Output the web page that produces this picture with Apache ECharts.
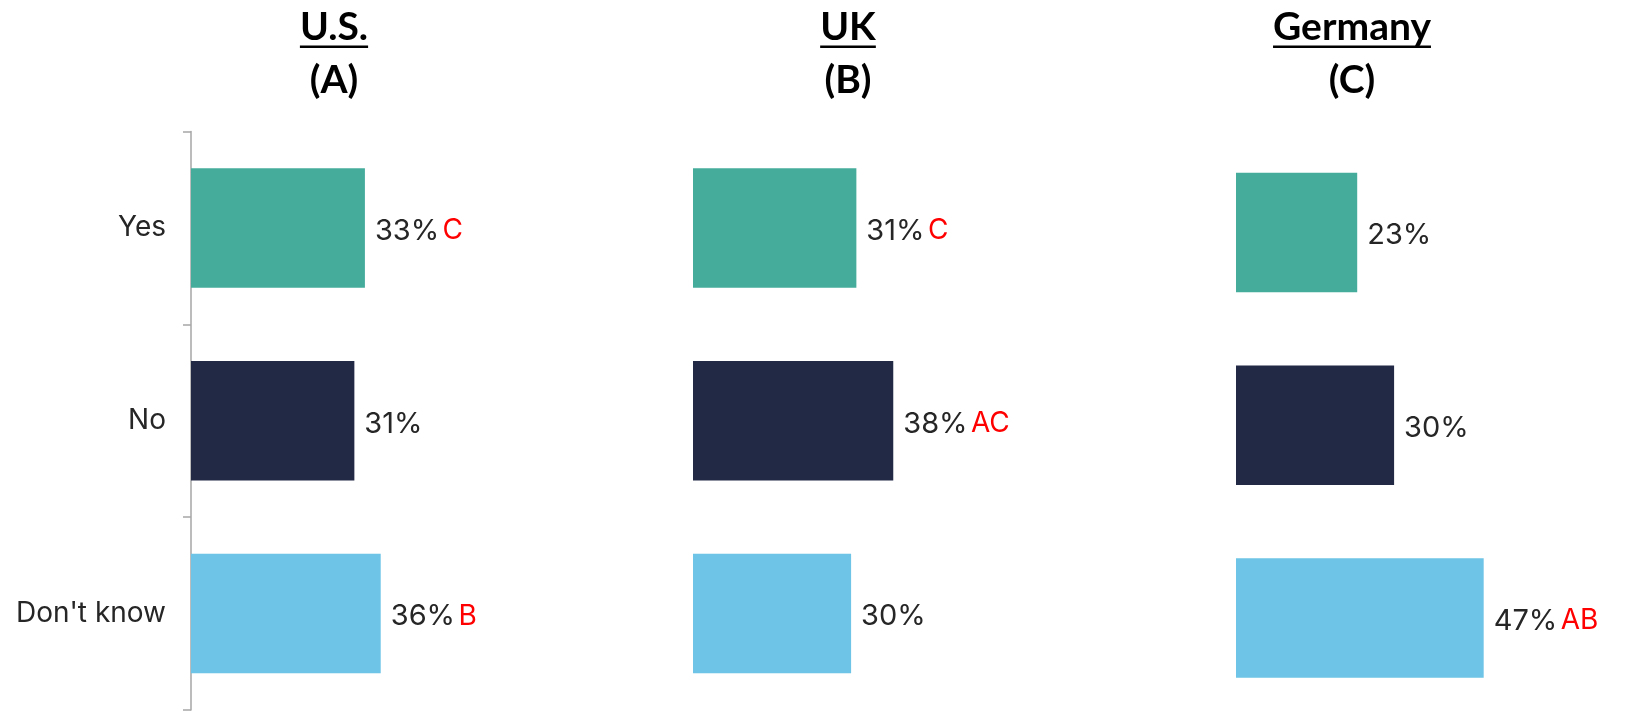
<!DOCTYPE html>
<html>
<head>
<meta charset="utf-8">
<script src="https://cdn.jsdelivr.net/npm/echarts@6/dist/echarts.min.js"></script>
<style>
  html, body { margin: 0; padding: 0; background: #ffffff; }
  #chart { width: 1625px; height: 711px; }
</style>
</head>
<body>
<div id="chart"></div>
<script>
// Survey answers by country, with significance letters
const categories = ['Yes', 'No', "Don't know"];
const panelTitles = ['U.S.', 'UK', 'Germany'];
const panelCodes = ['(A)', '(B)', '(C)'];
const usValues = [33, 31, 36];
const usSig = ['C', '', 'B'];
const ukValues = [31, 38, 30];
const ukSig = ['C', 'AC', ''];
const deValues = [23, 30, 47];
const deSig = ['', '', 'AB'];
const barColors = ['#45AB9B', '#212944', '#6EC4E6'];

const panelValues = [usValues, ukValues, deValues];
const panelSig = [usSig, ukSig, deSig];

// layout of the three small multiples
const gridLeft = [191, 693, 1236];
const gridTop = [131.6, 131.6, 136];
const gridHeight = 578.4;
const axisMax = 60;
const pxPerPoint = 5.27;
const titleCenter = [334, 848, 1352];

const titleFont = 'bold 39px Lato';
const labelFamily = 'Inter';

function textWidth(str, font) {
  const c = document.createElement('canvas').getContext('2d');
  c.font = font;
  return c.measureText(str).width;
}

const chart = echarts.init(document.getElementById('chart'), null, { renderer: 'canvas' });

const grids = [], xAxes = [], yAxes = [], series = [], graphics = [];

panelValues.forEach((vals, p) => {
  grids.push({
    left: gridLeft[p], top: gridTop[p], width: axisMax * pxPerPoint, height: gridHeight,
    containLabel: false, outerBoundsMode: 'none'
  });
  xAxes.push({ type: 'value', gridIndex: p, min: 0, max: axisMax, show: false });
  yAxes.push({
    type: 'category', gridIndex: p, data: categories, inverse: true,
    show: p === 0,
    axisLine: { show: true, lineStyle: { color: '#A6A6A6', width: 1.5 } },
    axisTick: { show: true, length: 8, lineStyle: { color: '#A6A6A6', width: 1.5 } },
    axisLabel: { show: true, margin: 25, color: '#262626', fontSize: 28, fontFamily: labelFamily }
  });
  series.push({
    type: 'bar', xAxisIndex: p, yAxisIndex: p,
    data: vals,
    barWidth: '62%',
    itemStyle: { color: (d) => barColors[d.dataIndex] },
    label: {
      show: true, position: 'right', distance: 10, offset: [0, 3],
      formatter: (d) => {
        const s = panelSig[p][d.dataIndex];
        return '{v|' + d.value + '%}' + (s ? ' {s|' + s + '}' : '');
      },
      rich: {
        v: { color: '#262626', fontSize: 29, fontFamily: labelFamily },
        s: { color: '#FF0000', fontSize: 28, fontFamily: labelFamily }
      }
    }
  });

  const w = textWidth(panelTitles[p], titleFont);
  graphics.push({
    type: 'text', x: titleCenter[p], y: 27,
    style: { text: panelTitles[p], font: titleFont, fill: '#000000', align: 'center', verticalAlign: 'middle' }
  });
  graphics.push({
    type: 'rect', shape: { x: titleCenter[p] - w / 2, y: 45.5, width: w, height: 2.6 },
    style: { fill: '#000000' }
  });
  graphics.push({
    type: 'text', x: titleCenter[p], y: 80,
    style: { text: panelCodes[p], font: titleFont, fill: '#000000', align: 'center', verticalAlign: 'middle' }
  });
});

chart.setOption({
  animation: false,
  backgroundColor: '#ffffff',
  grid: grids,
  xAxis: xAxes,
  yAxis: yAxes,
  series: series,
  graphic: graphics
});
</script>
</body>
</html>
